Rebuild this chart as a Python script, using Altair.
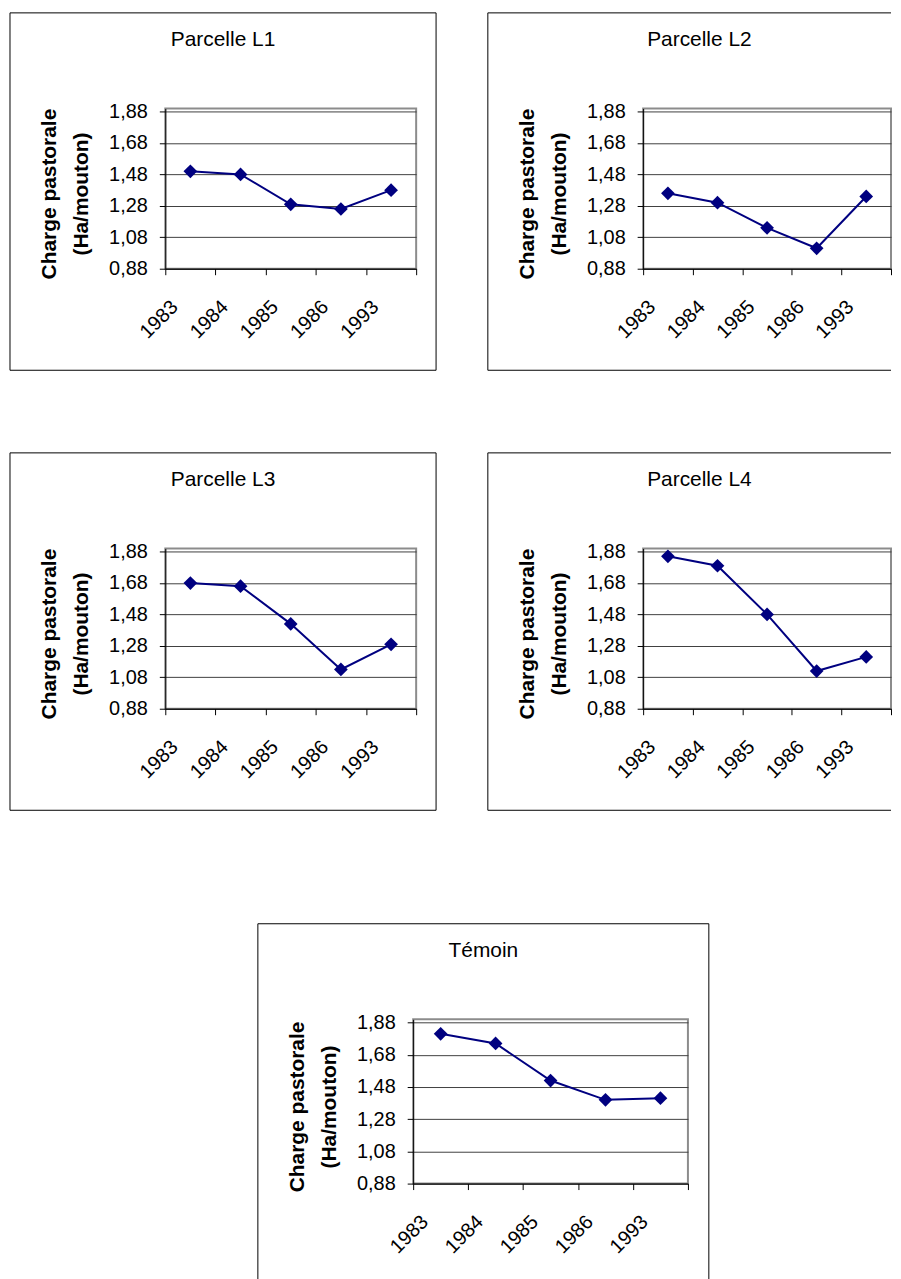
import altair as alt
import pandas as pd

years = ["1983", "1984", "1985", "1986", "1993"]
titles = ["Parcelle L1", "Parcelle L2", "Parcelle L3", "Parcelle L4", "Témoin"]
l1 = [1.50, 1.48, 1.29, 1.26, 1.38]
l2 = [1.36, 1.30, 1.14, 1.01, 1.34]
l3 = [1.68, 1.66, 1.42, 1.13, 1.29]
l4 = [1.85, 1.79, 1.48, 1.12, 1.21]
temoin = [1.81, 1.75, 1.52, 1.40, 1.41]
y_ticks = [0.88, 1.08, 1.28, 1.48, 1.68, 1.88]
y_domain = [0.88, 1.90]
y_title = ["Charge pastorale", "(Ha/mouton)"]

FONT = "Liberation Sans"
NAVY = "#000080"


def panel(title, values, w, h, right_pad, right_side=True):
    df = pd.DataFrame({"Année": years, "Charge": values})
    one = pd.DataFrame({"t": [title]})
    x = alt.X(
        "Année:N",
        sort=years,
        scale=alt.Scale(type="band", paddingInner=0, paddingOuter=0),
        axis=alt.Axis(
            title=None,
            tickBand="extent",
            labelAngle=315,
            labelAlign="right",
            labelBaseline="bottom",
            labelOffset=-9,
            labelPadding=36,
            labelFontSize=20,
            labelFont=FONT,
            labelColor="black",
            tickSize=6,
            tickColor="black",
            domainColor="black",
            grid=False,
        ),
    )
    y = alt.Y(
        "Charge:Q",
        scale=alt.Scale(domain=y_domain, nice=False, zero=False),
        axis=alt.Axis(
            values=y_ticks,
            labelExpr="replace(format(datum.value, '.2f'), '.', ',')",
            title=y_title,
            titleFont=FONT,
            titleFontSize=21,
            titleFontWeight="bold",
            titleColor="black",
            titleLineHeight=32,
            titleX=-106,
            titleY=h / 2 + 5,
            titleBaseline="bottom",
            titleAlign="center",
            labelFontSize=20,
            labelFont=FONT,
            labelColor="black",
            labelPadding=12,
            tickSize=6,
            tickColor="black",
            domainColor="black",
            grid=True,
            gridColor="#404040",
            gridWidth=1,
        ),
    )
    base = alt.Chart(df).encode(x=x, y=y)
    line = base.mark_line(color=NAVY, strokeWidth=2)
    pts = base.mark_point(shape="diamond", filled=True, size=190, color=NAVY, opacity=1)

    left, right, top, bottom = -156, w + right_pad, -96, h + 102
    frame = alt.Chart(one)
    sides = [
        frame.mark_rule(color="black", strokeWidth=1).encode(
            x=alt.value(left), x2=alt.value(right), y=alt.value(top)
        ),
        frame.mark_rule(color="black", strokeWidth=1).encode(
            x=alt.value(left), x2=alt.value(right), y=alt.value(bottom)
        ),
        frame.mark_rule(color="black", strokeWidth=1).encode(
            x=alt.value(left), y=alt.value(top), y2=alt.value(bottom)
        ),
    ]
    if right_side:
        sides.append(
            frame.mark_rule(color="black", strokeWidth=1).encode(
                x=alt.value(right), y=alt.value(top), y2=alt.value(bottom)
            )
        )
    ttl = frame.mark_text(
        font=FONT, fontSize=21, color="black", align="center", baseline="alphabetic"
    ).encode(
        text="t:N",
        x=alt.value((left + right) / 2 if right_side else (left + w + 20) / 2),
        y=alt.value(top + 33),
    )
    return alt.layer(*sides, line, pts, ttl).properties(width=w, height=h)


p1 = panel(titles[0], l1, 252, 161, 20)
p2 = panel(titles[1], l2, 249, 161, 0, right_side=False)
p3 = panel(titles[2], l3, 252, 161, 20)
p4 = panel(titles[3], l4, 249, 161, 0, right_side=False)
p5 = panel(titles[4], temoin, 276, 165, 21)

spacer = (
    alt.Chart(pd.DataFrame({"k": [0]}))
    .mark_point(opacity=0)
    .encode(x=alt.value(0), y=alt.value(0))
    .properties(width=91, height=10, view=alt.ViewBackground(strokeOpacity=0))
)

row1 = alt.hconcat(p1, p2, spacing=48)
row2 = alt.hconcat(p3, p4, spacing=48)
row3 = alt.hconcat(spacer, p5, spacing=0)

chart = (
    alt.vconcat(alt.vconcat(row1, row2, spacing=79), row3, spacing=110)
    .properties(padding={"left": 0, "top": 0, "right": 0, "bottom": 0})
    .configure(font=FONT)
    .configure_view(stroke="#8c8c8c", strokeWidth=2)
)

chart.save("out.html", embed_options={"renderer": "svg", "actions": False})
